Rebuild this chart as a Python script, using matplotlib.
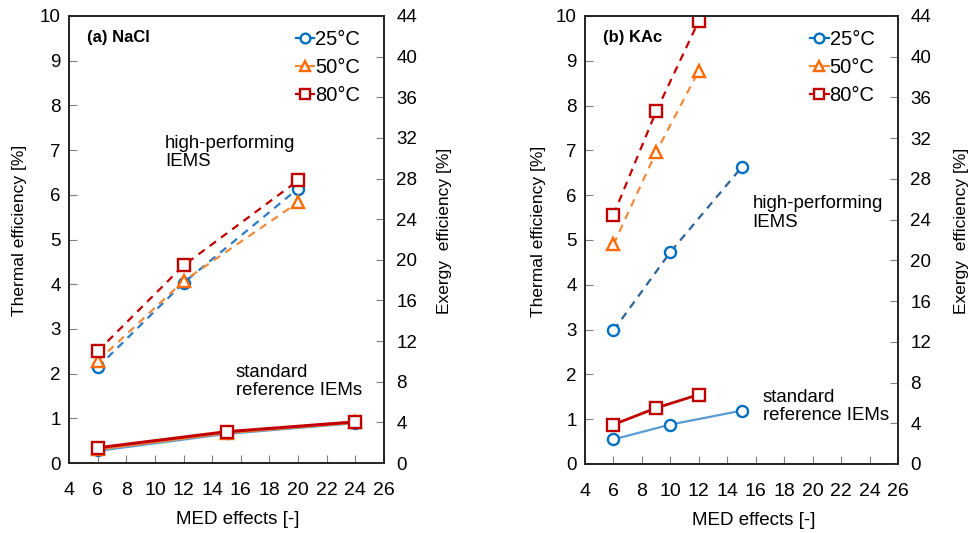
import matplotlib
matplotlib.use("Agg")
import matplotlib.pyplot as plt
from matplotlib.lines import Line2D

plt.rcParams['font.family'] = ['Liberation Sans', 'DejaVu Sans']

# ---------------- data ----------------
temps = ["25°C", "50°C", "80°C"]

# (a) NaCl - high-performing IEMs
a_hi_x25 = [6, 12, 20]; a_hi_y25 = [2.14, 4.03, 6.14]
a_hi_x50 = [6, 12, 20]; a_hi_y50 = [2.28, 4.07, 5.83]
a_hi_x80 = [6, 12, 20]; a_hi_y80 = [2.50, 4.42, 6.32]
# (a) NaCl - standard reference IEMs
a_st_x25 = [6, 15, 24]; a_st_y25 = [0.28, 0.66, 0.90]
a_st_x50 = [6, 15, 24]; a_st_y50 = [0.31, 0.68, 0.91]
a_st_x80 = [6, 15, 24]; a_st_y80 = [0.34, 0.70, 0.92]

# (b) KAc - high-performing IEMs
b_hi_x25 = [6, 10, 15]; b_hi_y25 = [2.98, 4.73, 6.62]
b_hi_x50 = [6, 9, 12];  b_hi_y50 = [4.90, 6.96, 8.78]
b_hi_x80 = [6, 9, 12];  b_hi_y80 = [5.56, 7.87, 9.89]
# (b) KAc - standard reference IEMs
b_st_x25 = [6, 10, 15]; b_st_y25 = [0.55, 0.88, 1.19]
b_st_x80 = [6, 9, 12];  b_st_y80 = [0.88, 1.25, 1.55]

x_ticks = list(range(4, 27, 2))
y_ticks = list(range(0, 11, 1))
y2_ticks = list(range(0, 45, 4))

# ---------------- style ----------------
BLUE = "#0070C0"
ORANGE = "#FF6A00"
ORANGE_L = "#F08A3C"
RED = "#C00000"
BLUE_DASH_A = "#2E7BC4"
BLUE_DASH_B = "#2F6496"
BLUE_SOLID = "#5B9BD5"
TICKC = "#808080"

fig = plt.figure(figsize=(9.7, 5.33), dpi=100)
ax_a = fig.add_axes([69/970, 1-463/533, 315/970, 447/533])
ax_b = fig.add_axes([585/970, 1-464/533, 313/970, 448/533])

mk = dict(markerfacecolor="white", markeredgewidth=1.7)
dash = (3.5, 2.8)


def hi(ax, x, y, c, mc, m, ms):
    ax.plot(x, y, color=c, lw=1.6, dashes=dash, marker=m, markersize=ms,
            markeredgecolor=mc, **mk)


def st(ax, x, y, c, mc, m, ms, lw):
    ax.plot(x, y, color=c, lw=lw, marker=m, markersize=ms,
            markeredgecolor=mc, **mk)


# panel a
hi(ax_a, a_hi_x25, a_hi_y25, BLUE_DASH_A, BLUE, "o", 8)
hi(ax_a, a_hi_x50, a_hi_y50, ORANGE_L, ORANGE, "^", 8)
hi(ax_a, a_hi_x80, a_hi_y80, RED, RED, "s", 8.5)
st(ax_a, a_st_x25, a_st_y25, BLUE_SOLID, BLUE, "o", 8, 2.2)
st(ax_a, a_st_x50, a_st_y50, ORANGE_L, ORANGE, "^", 8, 2.2)
st(ax_a, a_st_x80, a_st_y80, RED, RED, "s", 8.5, 2.2)

# panel b
hi(ax_b, b_hi_x25, b_hi_y25, BLUE_DASH_B, BLUE, "o", 8)
hi(ax_b, b_hi_x50, b_hi_y50, ORANGE_L, ORANGE, "^", 8)
hi(ax_b, b_hi_x80, b_hi_y80, RED, RED, "s", 8.5)
st(ax_b, b_st_x25, b_st_y25, BLUE_SOLID, BLUE, "o", 8, 1.6)
st(ax_b, b_st_x80, b_st_y80, RED, RED, "s", 8.5, 2.0)

handles = [
    Line2D([], [], color=BLUE, lw=1.6, marker="o", markersize=7, markeredgecolor=BLUE, **mk),
    Line2D([], [], color=ORANGE_L, lw=1.6, marker="^", markersize=7, markeredgecolor=ORANGE, **mk),
    Line2D([], [], color=RED, lw=1.6, marker="s", markersize=7, markeredgecolor=RED, **mk),
]

for ax, tag, xlx, lx, rx in [(ax_a, "(a) NaCl", 0.535, -0.133, 1.169),
                              (ax_b, "(b) KAc", 0.54, -0.124, 1.179)]:
    ax.set_xlim(4, 26)
    ax.set_ylim(0, 10)
    ax.set_xticks(x_ticks)
    ax.set_yticks(y_ticks)
    ax.tick_params(axis="both", direction="in", length=6, color=TICKC,
                   labelsize=13.5, pad=6)
    ax.tick_params(axis="x", pad=14, labelsize=14)
    for s in ax.spines.values():
        s.set_color("#222222")
        s.set_linewidth(1.2)
    ax.set_xlabel("MED effects [-]", fontsize=13.5)
    ax.xaxis.set_label_coords(xlx, -0.107)
    ax.set_ylabel("Thermal efficiency [%]", fontsize=12.5)
    ax.yaxis.set_label_coords(lx, 0.52)
    ax.text(0.057, 0.951, tag, transform=ax.transAxes, fontsize=12,
            fontweight="bold", va="center", ha="left")
    ax.legend(handles=handles, labels=temps, loc="upper right", frameon=False,
              fontsize=14.5, handlelength=0.9, handletextpad=0.05,
              labelspacing=0.45, borderaxespad=0.3, bbox_to_anchor=(0.97, 1.0))

    ax2 = ax.twinx()
    ax2.set_ylim(0, 44)
    ax2.set_yticks(y2_ticks)
    ax2.tick_params(axis="y", direction="in", length=6, color=TICKC,
                    labelsize=13.5, pad=9)
    for s in ax2.spines.values():
        s.set_color("#222222")
        s.set_linewidth(1.2)
    ax2.set_ylabel("Exergy  efficiency [%]", fontsize=12.5)
    ax2.yaxis.set_label_coords(rx, 0.52)

ann = dict(fontsize=13.4, va="center", ha="left", linespacing=1.1)
ax_a.text(10.7, 6.95, "high-performing\nIEMS", **ann)
ax_a.text(15.66, 1.83, "standard\nreference IEMs", **ann)
ax_b.text(15.79, 5.6, "high-performing\nIEMS", **ann)
ax_b.text(16.49, 1.29, "standard\nreference IEMs", **ann)

fig.savefig("out.png", dpi=100)
